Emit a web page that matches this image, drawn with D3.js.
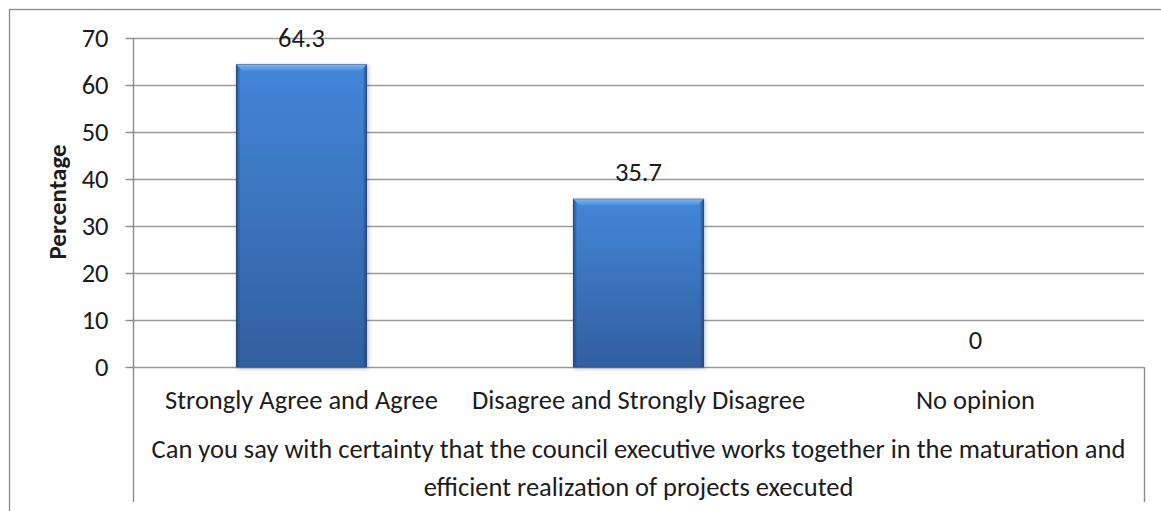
<!DOCTYPE html>
<html>
<head>
<meta charset="utf-8">
<script src="https://cdn.jsdelivr.net/npm/d3@7"></script>
<style>
  html, body { margin: 0; padding: 0; background: #fff; }
  svg { display: block; }
  text { font-family: Carlito, Lato, "Liberation Sans", sans-serif; fill: #1c1c1c; }
</style>
</head>
<body>
<svg id="chart" width="1161" height="511"></svg>
<script>
// Survey responses (percent)
const categories = ["Strongly Agree and Agree", "Disagree and Strongly Disagree", "No opinion"];
const values = [64.3, 35.7, 0];
const yTicks = [0, 10, 20, 30, 40, 50, 60, 70];
const yTitle = "Percentage";
const questionLines = [
  "Can you say with certainty that the council executive works together in the maturation and",
  "efficient realization of projects executed"
];

const svg = d3.select("#chart");
const W = 1161, H = 511;
const FS = 26.5;

const plot = { left: 133, right: 1144, top: 38, bottom: 367, axisBottom: 502 };

const x = d3.scaleBand()
  .domain(categories)
  .range([plot.left, plot.right])
  .paddingInner(0.614)
  .paddingOuter(0.307);

const y = d3.scaleLinear()
  .domain([0, 70])
  .range([plot.bottom, plot.top]);

const defs = svg.append("defs");

// bar body: vertical blue gradient
const body = defs.append("linearGradient").attr("id", "barBody")
  .attr("x1", 0).attr("y1", 0).attr("x2", 0).attr("y2", 1);
body.append("stop").attr("offset", "0%").attr("stop-color", "#4386d8");
body.append("stop").attr("offset", "100%").attr("stop-color", "#325f9f");

// darker side edges
const sides = defs.append("linearGradient").attr("id", "barSides")
  .attr("x1", 0).attr("y1", 0).attr("x2", 1).attr("y2", 0);
sides.append("stop").attr("offset", "0%").attr("stop-color", "#1f4275").attr("stop-opacity", 0.75);
sides.append("stop").attr("offset", "3%").attr("stop-color", "#1f4275").attr("stop-opacity", 0.0);
sides.append("stop").attr("offset", "97%").attr("stop-color", "#1f4275").attr("stop-opacity", 0.0);
sides.append("stop").attr("offset", "100%").attr("stop-color", "#1f4275").attr("stop-opacity", 0.75);

// light top bevel
const bevel = defs.append("linearGradient").attr("id", "barBevel")
  .attr("x1", 0).attr("y1", 0).attr("x2", 0).attr("y2", 1);
bevel.append("stop").attr("offset", "0%").attr("stop-color", "#7ab4f2");
bevel.append("stop").attr("offset", "100%").attr("stop-color", "#4d8fdf");

const shadow = defs.append("filter").attr("id", "barShadow")
  .attr("x", "-10%").attr("y", "-10%").attr("width", "125%").attr("height", "125%");
shadow.append("feDropShadow").attr("dx", 1).attr("dy", 1).attr("stdDeviation", 2)
  .attr("flood-color", "#000").attr("flood-opacity", 0.28);

// outer chart frame
svg.append("rect")
  .attr("x", 9.5).attr("y", 9.5).attr("width", W + 20).attr("height", H + 20)
  .attr("fill", "none").attr("stroke", "#8a8a8a").attr("stroke-width", 1.3);

// gridlines
svg.append("g").selectAll("line.grid")
  .data(yTicks)
  .join("line")
  .attr("class", "grid")
  .attr("x1", plot.left).attr("x2", plot.right)
  .attr("y1", d => Math.round(y(d)) + 0.5).attr("y2", d => Math.round(y(d)) + 0.5)
  .attr("stroke", "#9a9a9a").attr("stroke-width", 1.4);

// y axis with outward ticks
const yAxis = d3.axisLeft(y).tickValues(yTicks).tickSize(8).tickPadding(17).tickFormat(d3.format("d"));
const gy = svg.append("g").attr("transform", `translate(${plot.left + 0.5},0)`).call(yAxis);
gy.select(".domain").remove();
gy.selectAll(".tick line").attr("stroke", "#8a8a8a").attr("stroke-width", 1.4);
gy.selectAll(".tick text")
  .style("font-family", "Carlito, Lato, 'Liberation Sans', sans-serif")
  .attr("font-size", FS).attr("fill", "#1c1c1c");

// vertical axis line and category box
svg.append("line")
  .attr("x1", plot.left + 0.5).attr("x2", plot.left + 0.5)
  .attr("y1", plot.top).attr("y2", plot.axisBottom)
  .attr("stroke", "#8a8a8a").attr("stroke-width", 1.4);
svg.append("line")
  .attr("x1", plot.right + 0.5).attr("x2", plot.right + 0.5)
  .attr("y1", y(0)).attr("y2", plot.axisBottom)
  .attr("stroke", "#8a8a8a").attr("stroke-width", 1.4);

// bars
const bars = svg.append("g").selectAll("g.bar")
  .data(values.map((v, i) => ({ cat: categories[i], v })).filter(d => d.v > 0))
  .join("g").attr("class", "bar");

bars.append("rect")
  .attr("x", d => x(d.cat)).attr("y", d => y(d.v))
  .attr("width", x.bandwidth()).attr("height", d => y(0) - y(d.v))
  .attr("fill", "url(#barBody)")
  .attr("stroke", "#2a5188").attr("stroke-width", 1)
  .attr("filter", "url(#barShadow)");
bars.append("rect")
  .attr("x", d => x(d.cat)).attr("y", d => y(d.v))
  .attr("width", x.bandwidth()).attr("height", d => y(0) - y(d.v))
  .attr("fill", "url(#barSides)");
bars.append("path")
  .attr("d", d => {
    const x0 = x(d.cat), x1 = x0 + x.bandwidth(), t = y(d.v), b = 6;
    return `M${x0},${t}L${x1},${t}L${x1 - b},${t + b}L${x0 + b},${t + b}Z`;
  })
  .attr("fill", "url(#barBevel)");

// value labels
svg.append("g").selectAll("text.val")
  .data(values.map((v, i) => ({ cat: categories[i], v })))
  .join("text")
  .attr("class", "val")
  .attr("x", d => x(d.cat) + x.bandwidth() / 2)
  .attr("y", d => y(d.v) - 18)
  .attr("text-anchor", "middle")
  .attr("font-size", FS)
  .text(d => d3.format("")(d.v));

// category labels
svg.append("g").selectAll("text.cat")
  .data(categories)
  .join("text")
  .attr("class", "cat")
  .attr("x", d => x(d) + x.bandwidth() / 2)
  .attr("y", 409)
  .attr("text-anchor", "middle")
  .attr("font-size", FS)
  .text(d => d);

// question text under the categories
svg.append("g").selectAll("text.q")
  .data(questionLines)
  .join("text")
  .attr("class", "q")
  .attr("x", (plot.left + plot.right) / 2)
  .attr("y", (d, i) => 458 + i * 38)
  .attr("text-anchor", "middle")
  .attr("font-size", FS)
  .text(d => d);

// y axis title
svg.append("text")
  .attr("transform", "translate(66,202) rotate(-90)")
  .attr("text-anchor", "middle")
  .attr("font-size", 25)
  .attr("font-weight", "bold")
  .text(yTitle);
</script>
</body>
</html>
